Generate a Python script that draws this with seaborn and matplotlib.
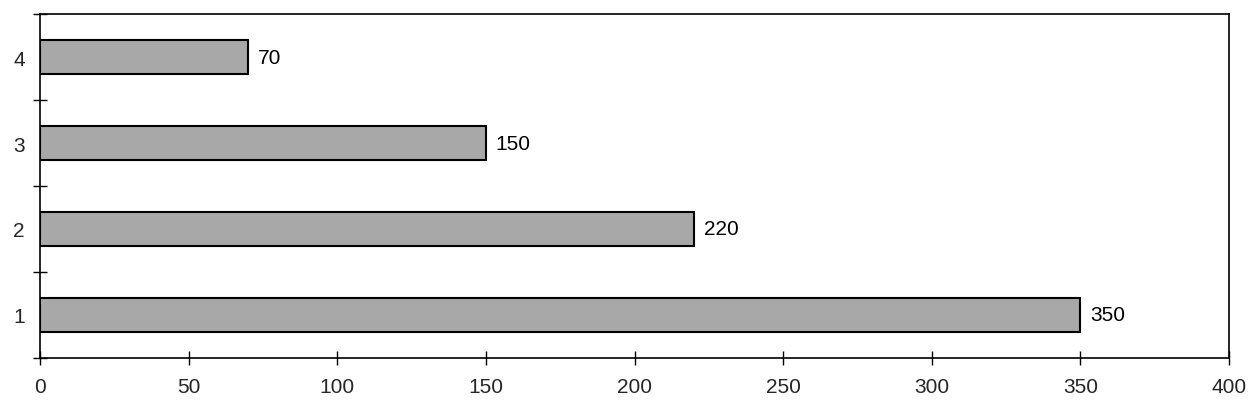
import matplotlib
matplotlib.use("Agg")
import matplotlib.pyplot as plt
import seaborn as sns
import pandas as pd
from matplotlib.ticker import FixedLocator

categories = ["4", "3", "2", "1"]
values = [70, 150, 220, 350]
xticks = [0, 50, 100, 150, 200, 250, 300, 350, 400]

sns.set_theme(style="white")
plt.rcParams["font.family"] = ["Liberation Sans", "DejaVu Sans"]

df = pd.DataFrame({"cat": categories, "val": values})

fig = plt.figure(figsize=(12.54, 4.06), dpi=100)
ax = fig.add_axes([40/1254, 1 - 359/406, (1229-40)/1254, (359-15)/406])

sns.barplot(data=df, x="val", y="cat", order=categories, orient="h",
            color="#a8a8a8", saturation=1, width=0.4,
            edgecolor="black", linewidth=1.5, ax=ax)

for c in ax.containers:
    ax.bar_label(c, labels=[str(v) for v in values], padding=7, fontsize=15, color="black")

ax.set_xlim(0, 400)
ax.set_ylim(3.5, -0.5)
ax.set_xticks(xticks)
ax.set_xticklabels([str(t) for t in xticks], fontsize=15)
ax.set_yticks(range(len(categories)))
ax.set_yticklabels(categories, fontsize=15)
ax.yaxis.set_minor_locator(FixedLocator([-0.5, 0.5, 1.5, 2.5, 3.5]))
ax.tick_params(axis="y", which="major", length=0, pad=11)
ax.tick_params(axis="y", which="minor", left=True, direction="inout", length=10, width=1, color="black")
ax.tick_params(axis="x", which="major", bottom=True, direction="inout", length=10, width=1, color="black", pad=9)
ax.set_xlabel("")
ax.set_ylabel("")
for s in ax.spines.values():
    s.set_visible(True)
    s.set_color("black")
    s.set_linewidth(1.2)

fig.savefig("out.png", dpi=100)
